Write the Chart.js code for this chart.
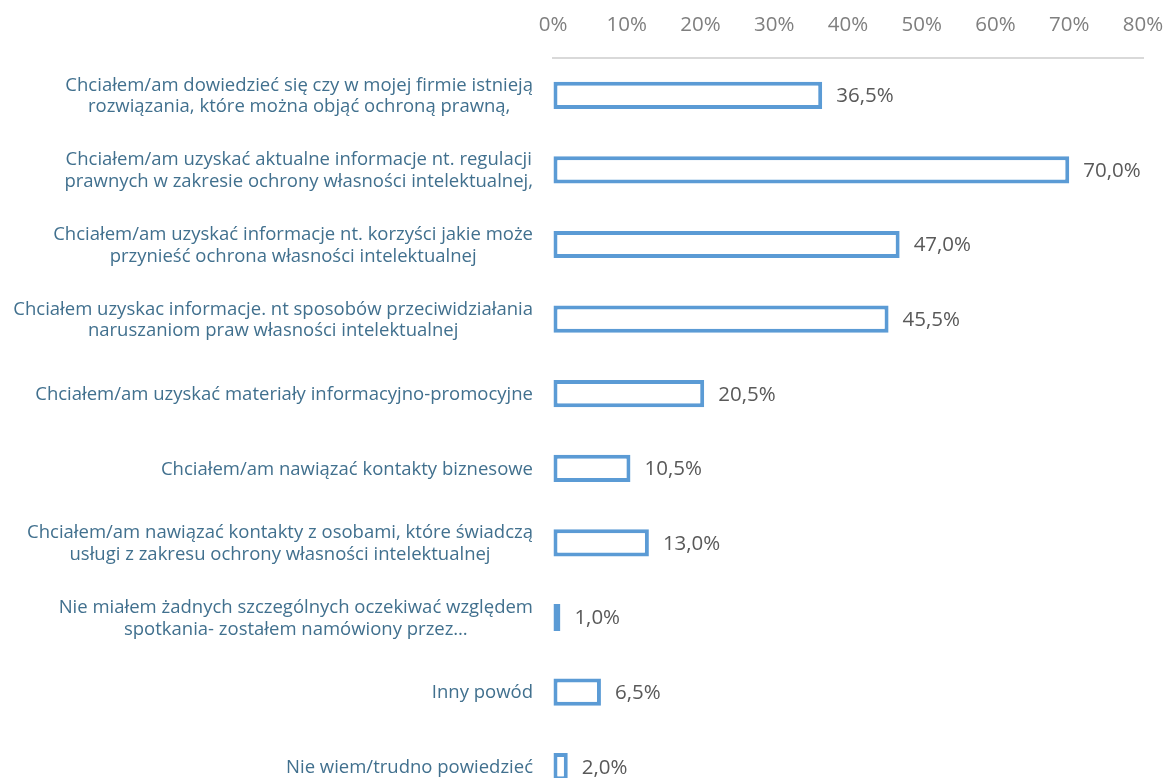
<!DOCTYPE html>
<html>
<head>
<meta charset="utf-8">
<script src="https://cdn.jsdelivr.net/npm/chart.js@4/dist/chart.umd.min.js"></script>
<style>
html,body{margin:0;padding:0;background:#fff;overflow:hidden;}
#wrap{width:1165px;height:778px;overflow:hidden;position:relative;}
#c{display:block;}
</style>
</head>
<body>
<div id="wrap"><canvas id="c" width="1165" height="804"></canvas></div>
<script>
const categories = [
  ["Chciałem/am dowiedzieć się czy w mojej firmie istnieją", "rozwiązania, które można objąć ochroną prawną,"],
  ["Chciałem/am uzyskać aktualne informacje nt. regulacji", "prawnych w zakresie ochrony własności intelektualnej,"],
  ["Chciałem/am uzyskać informacje nt. korzyści jakie może", "przynieść ochrona własności intelektualnej"],
  ["Chciałem uzyskac informacje. nt sposobów przeciwidziałania", "naruszaniom praw własności intelektualnej"],
  ["Chciałem/am uzyskać materiały informacyjno-promocyjne"],
  ["Chciałem/am nawiązać kontakty biznesowe"],
  ["Chciałem/am nawiązać kontakty z osobami, które świadczą", "usługi z zakresu ochrony własności intelektualnej"],
  ["Nie miałem żadnych szczególnych oczekiwać względem", "spotkania- zostałem namówiony przez…"],
  ["Inny powód"],
  ["Nie wiem/trudno powiedzieć"]
];
const values = [36.5, 70.0, 47.0, 45.5, 20.5, 10.5, 13.0, 1.0, 6.5, 2.0];
const tickValues = [0, 10, 20, 30, 40, 50, 60, 70, 80];

const FONT = '"Open Sans", "DejaVu Sans", sans-serif';

const labelPlugin = {
  id: 'customLabels',
  afterDatasetsDraw(chart) {
    const ctx = chart.ctx;
    const ys = chart.scales.y;
    const xs = chart.scales.x;
    const meta = chart.getDatasetMeta(0);
    ctx.save();
    // category labels
    ctx.font = '18.5px ' + FONT;
    ctx.fillStyle = '#41708E';
    ctx.textBaseline = 'middle';
    ctx.textAlign = 'center';
    const rightEdge = xs.left - 20;
    const lh = 21.5;
    categories.forEach((lines, i) => {
      const cy = ys.getPixelForValue(i) + 1;
      const maxW = Math.max(...lines.map(l => ctx.measureText(l).width));
      const cx = rightEdge - maxW / 2;
      const y0 = cy - (lines.length - 1) * lh / 2;
      lines.forEach((l, k) => ctx.fillText(l, cx, y0 + k * lh));
    });
    // value labels
    ctx.font = '20.5px ' + FONT;
    ctx.fillStyle = '#595959';
    ctx.textAlign = 'left';
    meta.data.forEach((bar, i) => {
      const txt = values[i].toFixed(1).replace('.', ',') + '%';
      ctx.fillText(txt, bar.x + 14, bar.y + 1);
    });
    ctx.restore();
  }
};

new Chart(document.getElementById('c'), {
  type: 'bar',
  data: {
    labels: categories.map(c => c.join(' ')),
    datasets: [{
      data: values,
      backgroundColor: '#ffffff',
      borderColor: '#5B9BD5',
      borderWidth: 4,
      borderSkipped: false,
      barPercentage: 0.365,
      categoryPercentage: 1.0
    }]
  },
  options: {
    indexAxis: 'y',
    responsive: false,
    animation: false,
    layout: { padding: { left: 553, right: 22, top: 0, bottom: 0 } },
    plugins: { legend: { display: false }, tooltip: { enabled: false } },
    scales: {
      x: {
        position: 'top',
        min: 0,
        max: 80,
        afterBuildTicks(scale) { scale.ticks = tickValues.map(v => ({ value: v })); },
        afterFit(scale) { scale.height = 58; scale.paddingRight = 0; scale.paddingLeft = 0; },
        ticks: {
          callback: v => v + '%',
          color: '#7F7F7F',
          font: { family: FONT, size: 20.5 },
          padding: 20.5,
          maxRotation: 0
        },
        grid: { display: true, drawOnChartArea: false, drawTicks: false },
        border: { display: true, color: '#D9D9D9', width: 2 }
      },
      y: {
        display: false,
        offset: true
      }
    }
  },
  plugins: [labelPlugin]
});
</script>
</body>
</html>
